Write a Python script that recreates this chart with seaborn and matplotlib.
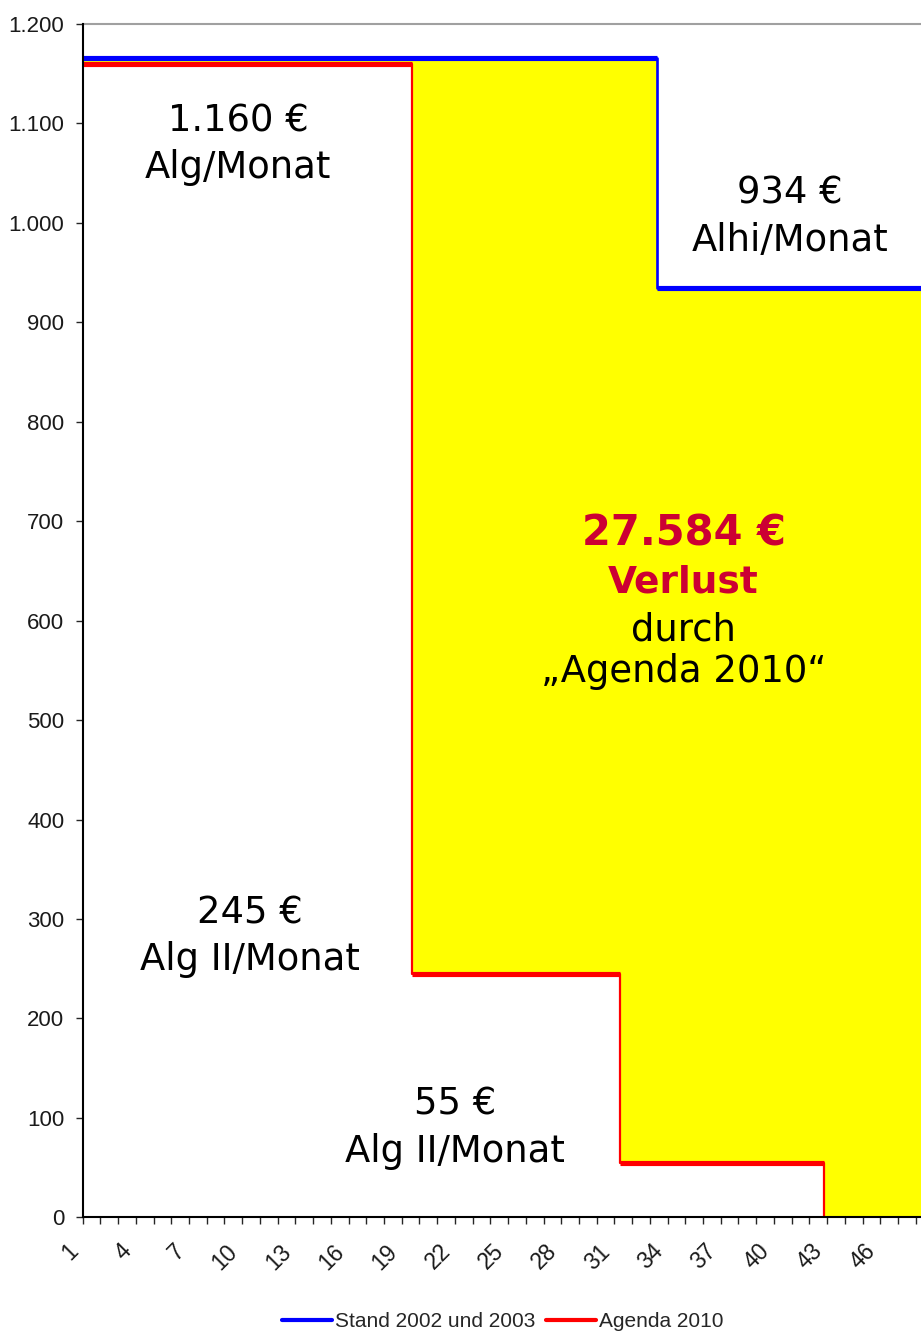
import numpy as np
import seaborn as sns
import matplotlib.pyplot as plt
import matplotlib.ticker as mticker
from matplotlib.lines import Line2D
from matplotlib.transforms import ScaledTranslation

# Daten (Monate, Euro pro Monat)
x_end = 47.8                          # rechter Rand des sichtbaren Bereichs
blue_start = [0.5, 32.9]              # Stand 2002 und 2003
blue_level = [1166, 934]
red_start = [0.5, 19.1, 30.8, 42.3]   # Agenda 2010
red_level = [1160, 245, 55, 0]

month_labels = list(range(1, 47, 3))
y_ticks = list(range(0, 1201, 100))

sns.set_style('white')
plt.rcParams['font.family'] = ['DejaVu Sans']

fig = plt.figure(figsize=(9.21, 13.31), dpi=100)
ax = fig.add_axes([0.0898, 0.0854, 0.9102, 0.8966])

# Fläche zwischen beiden Kurven (Verlust)
grid = np.array(sorted(set(blue_start + red_start + [x_end])))
b_vals = np.array(blue_level)[np.searchsorted(blue_start, grid, side='right') - 1]
r_vals = np.array(red_level)[np.searchsorted(red_start, grid, side='right') - 1]
ax.fill_between(grid, r_vals, b_vals, step='post', color='#FFFF00', lw=0, zorder=1)

# Stufenlinien (senkrechte Teile dünn, waagrechte dick wie im Original)
sns.lineplot(x=red_start, y=red_level, drawstyle='steps-post', color='#FF0000',
             lw=1.6, ax=ax, zorder=3, sort=False)
sns.lineplot(x=blue_start + [x_end], y=blue_level + [blue_level[-1]],
             drawstyle='steps-post', color='#0000FF', lw=1.9, ax=ax, zorder=4, sort=False)

red_end = red_start[1:] + [x_end]
keep = [i for i, v in enumerate(red_level) if v > 0]
ax.hlines([red_level[i] for i in keep], [red_start[i] for i in keep],
          [red_end[i] for i in keep], color='#FF0000', lw=3.7, zorder=3)
blue_end = blue_start[1:] + [x_end]
ax.hlines(blue_level, blue_start, blue_end, color='#0000FF', lw=3.7, zorder=4)

ax.set_xlim(0.5, x_end)
ax.set_ylim(0, 1200)

# Achsen
for s in ['left', 'bottom']:
    ax.spines[s].set_color('black')
    ax.spines[s].set_linewidth(1.5)
    ax.spines[s].set_zorder(6)
ax.spines['top'].set_color('#A0A0A0')
ax.spines['top'].set_linewidth(1.5)
ax.spines['right'].set_visible(False)

ax.set_yticks(y_ticks)
ax.yaxis.set_major_formatter(mticker.FuncFormatter(lambda v, p: f'{v:,.0f}'.replace(',', '.')))
ax.tick_params(axis='y', direction='out', length=4.8, width=1, pad=8.5, left=True,
               labelsize=16, labelcolor='#1a1a1a')
for lab in ax.get_yticklabels():
    lab.set_family('Liberation Sans')

ax.set_xticks(np.arange(0.5, x_end, 1.0))
ax.set_xticklabels([])
ax.tick_params(axis='x', which='major', direction='out', length=5, width=1, bottom=True)
ax.set_xticks(month_labels, minor=True)
ax.set_xticklabels([str(m) for m in month_labels], minor=True)
ax.tick_params(axis='x', which='minor', length=0, pad=22, labelsize=16.5, labelcolor='#1a1a1a')
shift = ScaledTranslation(-0.17, 0, fig.dpi_scale_trans)
for lab in ax.get_xticklabels(minor=True):
    lab.set_rotation(45)
    lab.set_ha('right')
    lab.set_va('center')
    lab.set_rotation_mode('anchor')
    lab.set_family('Liberation Sans')
    lab.set_transform(lab.get_transform() + shift)

ax.set_xlabel('')
ax.set_ylabel('')
if ax.get_legend() is not None:
    ax.get_legend().remove()

# Beschriftungen im Diagramm
txt = dict(ha='center', va='baseline', fontsize=26.6, color='black', zorder=7)
ax.text(9.28, 1091.7, '1.160 €', **txt)
ax.text(9.28, 1045.5, 'Alg/Monat', **txt)
ax.text(40.4, 1019, '934 €', **txt)
ax.text(40.4, 972, 'Alhi/Monat', **txt)
ax.text(34.4, 675.7, '27.584 €', ha='center', va='baseline', fontsize=30,
        fontweight='bold', color='#CC0033', zorder=7)
ax.text(34.4, 628.5, 'Verlust', ha='center', va='baseline', fontsize=27,
        fontweight='bold', color='#CC0033', zorder=7)
ax.text(34.4, 580, 'durch', **txt)
ax.text(34.4, 538, '\u201eAgenda 2010\u201c', **txt)
ax.text(9.94, 295, '245 €', **txt)
ax.text(9.94, 249, 'Alg II/Monat', **txt)
ax.text(21.5, 103, '55 €', **txt)
ax.text(21.5, 56, 'Alg II/Monat', **txt)

# Legende unten
handles = [Line2D([], [], color='#0000FF', lw=3),
           Line2D([], [], color='#FF0000', lw=3)]
fig.legend(handles, ['Stand 2002 und 2003', 'Agenda 2010'], loc='center',
           bbox_to_anchor=(0.546, 0.007), ncol=2, frameon=False,
           prop={'family': 'Liberation Sans', 'size': 15}, handlelength=2.4,
           handletextpad=0.15, columnspacing=0.5, borderaxespad=0, borderpad=0)

plt.savefig('out.png', dpi=100)
